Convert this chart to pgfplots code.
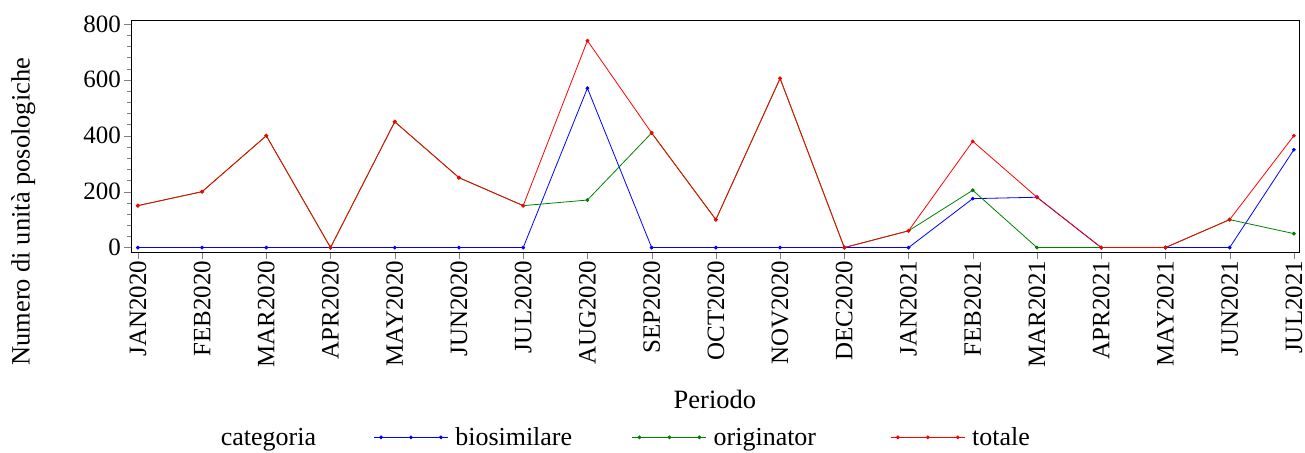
\documentclass[border=0pt]{standalone}
\usepackage{pgfplots}
\pgfplotsset{compat=1.18}
\usepackage{fontspec}
\setmainfont{Liberation Serif}
\definecolor{cblue}{RGB}{0,0,255}
\definecolor{cgreen}{RGB}{0,128,0}
\definecolor{cred}{RGB}{255,0,0}
\begin{document}
\begin{tikzpicture}[font=\fontsize{26}{30}\selectfont]
\begin{axis}[
 scale only axis, width=1170pt, height=233pt,
 xmin=-0.11, xmax=18.08, ymin=-18, ymax=814,
 xtick={0,...,18},
 xticklabels={JAN2020,FEB2020,MAR2020,APR2020,MAY2020,JUN2020,JUL2020,AUG2020,SEP2020,OCT2020,NOV2020,DEC2020,JAN2021,FEB2021,MAR2021,APR2021,MAY2021,JUN2021,JUL2021},
 x tick label style={rotate=90, anchor=east, inner sep=1.5pt},
 ytick={0,200,...,800}, minor y tick num=4,
 tick align=outside, xtick pos=bottom, ytick pos=left,
 major tick length=6.5pt, minor tick length=3.5pt,
 /pgf/number format/assume math mode=true,
 tick label style={font=\fontsize{25}{29}\selectfont},
 label style={font=\fontsize{26.5}{30}\selectfont},
 ylabel={Numero di unità posologiche},
 ylabel style={at={(rel axis cs:-0.092,0.176)}, anchor=center},
 xlabel={Periodo},
 xlabel style={at={(rel axis cs:0.5,-0.63)}, anchor=center},
 legend columns=4,
 legend style={at={(rel axis cs:0.0684,-0.794)}, anchor=west, draw=none, fill=none,
   font=\fontsize{26}{30}\selectfont, nodes={inner xsep=7pt},
   /tikz/every even column/.append style={column sep=0pt}},
 legend image code/.code={\draw[#1,mark=none] (0pt,0pt) -- (74pt,0pt);
   \draw[#1,only marks] plot coordinates {(7pt,0pt) (37pt,0pt) (67pt,0pt)};},
 every axis plot/.append style={line width=0.8pt, mark=*, mark size=1.5pt},
]
\addlegendimage{empty legend}
\addlegendentry{\makebox[146pt][l]{categoria}}
\addplot[cblue, mark options={fill=cblue}] coordinates {
(0,0) (1,0) (2,0) (3,0) (4,0) (5,0) (6,0) (7,570) (8,0) (9,0) (10,0) (11,0) (12,0) (13,175) (14,180) (15,0) (16,0) (17,0) (18,350)};
\addlegendentry{\makebox[170pt][l]{biosimilare}}
\addplot[cgreen, mark options={fill=cgreen}] coordinates {
(0,150) (1,200) (2,400) (3,0) (4,450) (5,250) (6,150) (7,170) (8,410) (9,100) (10,605) (11,0) (12,60) (13,205) (14,0) (15,0) (16,0) (17,100) (18,50)};
\addlegendentry{\makebox[170pt][l]{originator}}
\addplot[cred, mark options={fill=cred}] coordinates {
(0,150) (1,200) (2,400) (3,0) (4,450) (5,250) (6,150) (7,740) (8,410) (9,100) (10,605) (11,0) (12,60) (13,380) (14,180) (15,0) (16,0) (17,100) (18,400)};
\addlegendentry{totale}
\end{axis}
\pgfresetboundingbox
\path (current axis.south west) ++(-131pt,-200pt) rectangle ++(1307pt,453pt);
\end{tikzpicture}
\end{document}
